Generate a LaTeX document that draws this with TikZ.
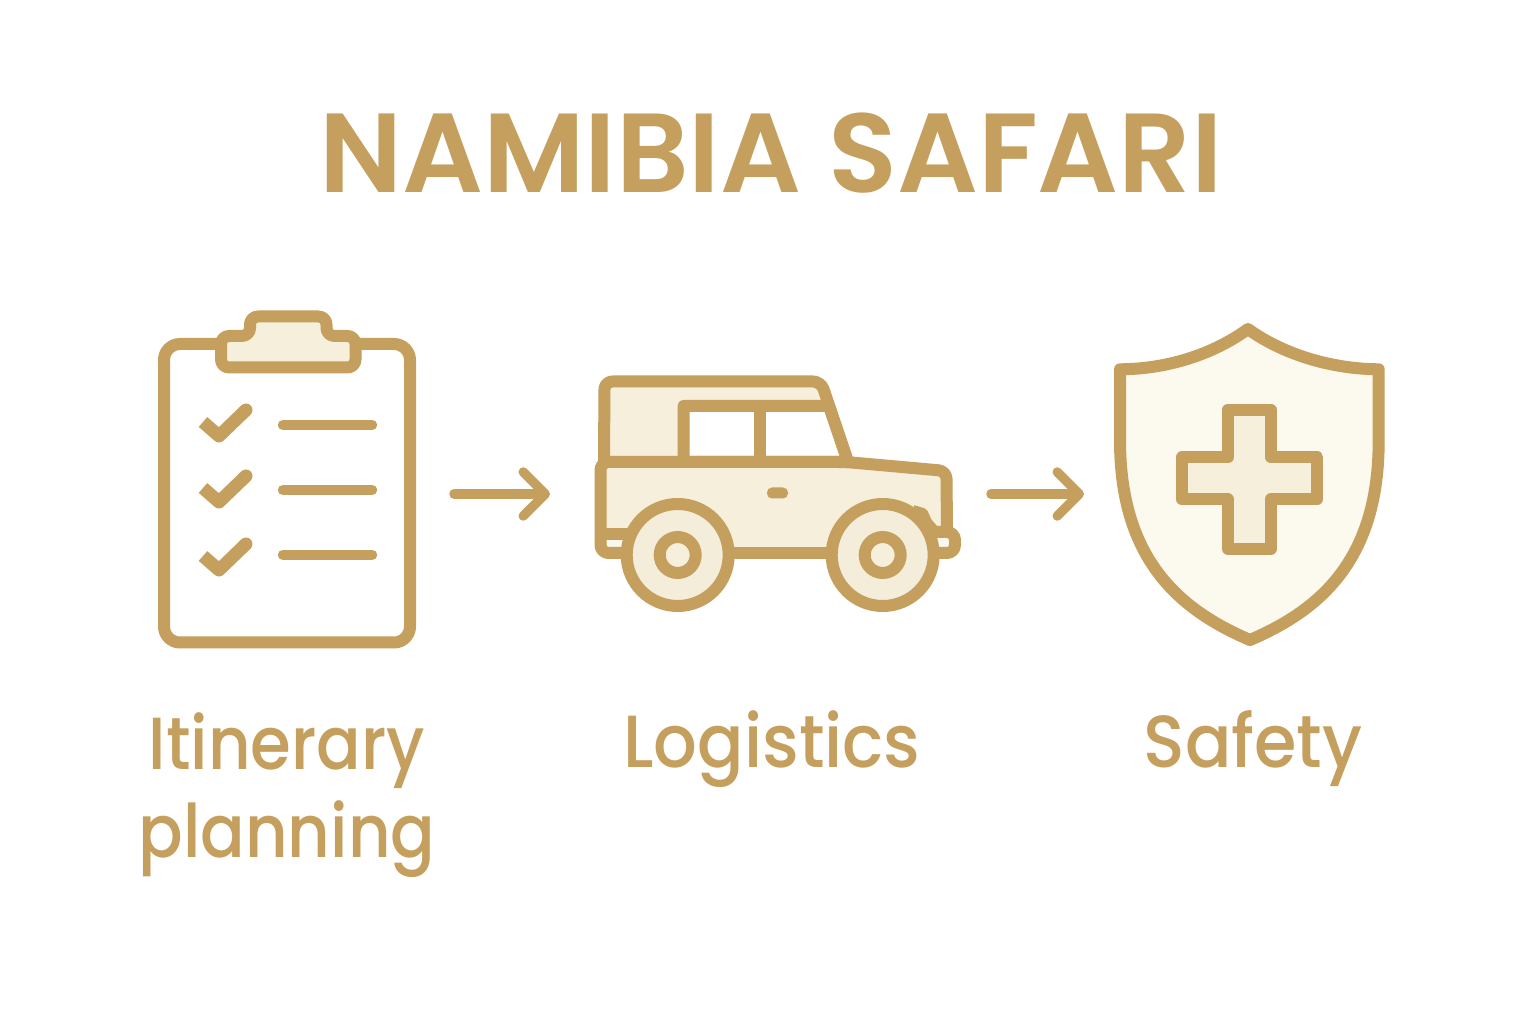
\documentclass[tikz,border=0pt]{standalone}
\usepackage{fontspec}
\setmainfont{Poppins Medium}
\newfontfamily\headingfont{Poppins SemiBold}
\usetikzlibrary{arrows.meta,positioning}
\definecolor{gold}{HTML}{C49F5D}
\definecolor{cream}{HTML}{F5EFDC}
\definecolor{palecream}{HTML}{FCF9EF}
\definecolor{tirecream}{HTML}{F4EDD9}
\tikzset{
  iconline/.style={draw=gold,line width=1.2mm,line join=round},
  flowarrow/.style={draw=gold,line width=0.95mm,line cap=round,-{Straight Barb[length=2.2mm,width=4.4mm,line cap=round,round]}},
  iconbox/.style={inner sep=0pt,outer sep=0pt,minimum height=32mm},
  titletext/.style={text=gold,font=\fontsize{32}{36}\selectfont\headingfont,xscale=1.005},
  icontext/.style={text=gold,font=\fontsize{21}{25}\selectfont,align=center,xscale=0.93},
}
\begin{document}
\begin{tikzpicture}[x=0.1mm,y=-0.1mm]
\useasboundingbox (0,0) rectangle (1536,1024);
\fill[white] (0,0) rectangle (1536,1024);

\node[titletext,anchor=base] (heading) at (771,193) {NAMIBIA SAFARI};

% clipboard
\draw[iconline,fill=white,rounded corners=1.6mm] (164,344) rectangle (410,642.5);
\draw[iconline,fill=cream,rounded corners=0.8mm] (221,367.5) -- (221,336) -- (250,336) -- (250,316.5) -- (326.5,316.5) -- (326.5,336) -- (355.5,336) -- (355.5,367.5) -- cycle;
\foreach \ya/\yb in {436/425,502/490,570/555}{
  \draw[iconline,line width=1.3mm] (203,\ya-14) -- (219,\ya) -- (246,\ya-26);
  \fill[gold] (246,\ya-26) circle (0.65mm);
  \draw[iconline,line width=1.05mm,line cap=round] (283,\yb) -- (372,\yb);
}

% jeep
\fill[cream] (604.5,381.5) -- (821,381.5) -- (848,462) -- (604.5,462) -- cycle;
\draw[iconline,fill=white] (683.7,462) -- (683.7,406) -- (829,406) -- (848,462) -- cycle;
\draw[iconline] (760,406) -- (760,462);
\draw[iconline,rounded corners=0.8mm] (604,462) -- (604.5,381.5) -- (821,381.5) -- (848,462);
\fill[cream] (600.5,462) -- (846,462) -- (946.5,471) -- (946.5,534) -- (900,553) -- (600.5,553) -- cycle;
\fill[white!50!cream] (600.5,534) rectangle (640,553);
\fill[white!50!cream] (930,532) rectangle (955,553);
\draw[iconline] (600.5,534) -- (640,534);
\draw[iconline,rounded corners=0.8mm] (930,532) -- (955,532) -- (955,553) -- (900,553);
\draw[iconline,rounded corners=0.8mm] (650,553) -- (600.5,553) -- (600.5,462) -- (846,462) -- (946.5,471) -- (947,532);
\draw[iconline] (650,553) -- (900,553);
\foreach \cx in {677.7,882.7}{
  \draw[iconline,fill=tirecream] (\cx,555) circle (5.1mm);
  \draw[iconline,fill=cream] (\cx,555) circle (1.8mm);
}
\draw[draw=gold,line width=1mm,line join=round] (913,510) -- (923,513) -- (927,522) -- (933,529);
\fill[gold,rounded corners=0.5mm] (767,487.5) rectangle (788,498.5);

% shield
\draw[iconline,fill=palecream] (1248,329) .. controls (1215,353) and (1170,369) .. (1120,369.3) -- (1120,440) .. controls (1120,560) and (1180,610) .. (1250,640) .. controls (1320,610) and (1379,560) .. (1378.7,440) -- (1378.7,369.3) .. controls (1329,369) and (1281,353) .. (1248,329) -- cycle;
\draw[iconline,fill=cream] (1227.8,409.8) -- (1270.8,409.8) -- (1270.8,457.3) -- (1317.3,457.3) -- (1317.3,499.3) -- (1270.8,499.3) -- (1270.8,548.7) -- (1227.8,548.7) -- (1227.8,499.3) -- (1182,499.3) -- (1182,457.3) -- (1227.8,457.3) -- cycle;

% invisible boxes round the icons, for the arrows
\node[iconbox,minimum width=33.2mm] (plan) at (288,494) {};
\node[iconbox,minimum width=44.1mm] (jeep) at (770.5,494) {};
\node[iconbox,minimum width=33.2mm] (shield) at (1250,494) {};
\draw[flowarrow] (plan) -- (jeep);
\draw[flowarrow] (jeep) -- (shield);

\node[icontext,anchor=north,xscale=0.96] (plantext) at (287,700) {Itinerary\\planning};
\node[icontext,anchor=base] (jeeptext) at (772,768) {Logistics};
\node[icontext,anchor=base] (shieldtext) at (1253,768) {Safety};
\end{tikzpicture}
\end{document}
